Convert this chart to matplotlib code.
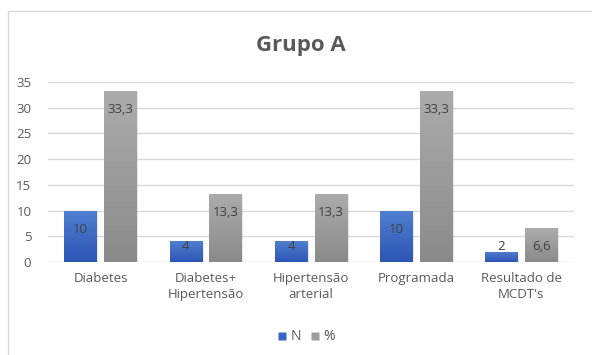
import matplotlib
matplotlib.use("Agg")
import matplotlib.pyplot as plt
import numpy as np
from matplotlib.patches import Rectangle
from matplotlib.colors import LinearSegmentedColormap
import matplotlib.patheffects as pe
from matplotlib.lines import Line2D

plt.rcParams['font.family'] = ['Open Sans', 'DejaVu Sans']

categories = ["Diabetes", "Diabetes+\nHipertensão", "Hipertensão\narterial",
              "Programada", "Resultado de\nMCDT's"]
n_values = [10, 4, 4, 10, 2]
pct_values = [33.3, 13.3, 13.3, 33.3, 6.6]
series_names = ["N", "%"]
yticks = [0, 5, 10, 15, 20, 25, 30, 35]


def fmt(v):
    s = f"{v:g}"
    return s.replace(".", ",")


fig = plt.figure(figsize=(5.92, 3.55), dpi=100)
fig.patch.set_facecolor("white")

# chart frame (left and top edges visible)
frame = Rectangle((8 / 592, -0.05), 1.2, (1 - 11 / 355) + 0.05, transform=fig.transFigure,
                  fill=False, edgecolor="#d9d9d9", linewidth=1.0, zorder=0)
fig.patches.append(frame)

ax = fig.add_axes([48 / 592, 1 - 262 / 355, (574 - 48) / 592, (262 - 82) / 355])
ax.set_xlim(-0.5, len(categories) - 0.5)
ax.set_ylim(0, 35)
for s in ax.spines.values():
    s.set_visible(False)
ax.set_yticks(yticks)
ax.yaxis.grid(True, color="#d9d9d9", linewidth=1.0)
ax.set_axisbelow(True)
ax.tick_params(axis="both", length=0, colors="#595959", labelsize=9.5)
ax.tick_params(axis="y", pad=12)
ax.tick_params(axis="x", pad=7)
x = np.arange(len(categories))
ax.set_xticks(x)
ax.set_xticklabels(categories, color="#595959", fontsize=9.5, linespacing=1.3)

blue_cmap = LinearSegmentedColormap.from_list("blue", ["#2c55b5", "#5180cf"])
gray_cmap = LinearSegmentedColormap.from_list("gray", ["#8a8a8a", "#acacac"])

offset = 0.19
width = 0.31
grad = np.linspace(0, 1, 256).reshape(-1, 1)

for vals, dx, cmap, base in [(n_values, -offset, blue_cmap, "#3a64c0"),
                             (pct_values, offset, gray_cmap, "#9c9c9c")]:
    bars = ax.bar(x + dx, vals, width, color=base, zorder=2,
                  path_effects=[pe.SimplePatchShadow(offset=(1.0, -1.0), alpha=0.15,
                                                     shadow_rgbFace="#666666"),
                                pe.Normal()])
    for b, v in zip(bars, vals):
        bx, bw = b.get_x(), b.get_width()
        im = ax.imshow(grad, extent=[bx, bx + bw, 0, v], origin="lower",
                       cmap=cmap, aspect="auto", zorder=3)
        im.set_clip_path(b)
        ax.text(bx + bw / 2, max(v - 3.6, 3.0), fmt(v), ha="center", va="center",
                fontsize=9.5, color="#404040", zorder=4)

ax.set_xlim(-0.5, len(categories) - 0.5)
ax.set_ylim(0, 35)

fig.text(301 / 592, 1 - 45 / 355, "Grupo A", ha="center", va="center",
         fontsize=16, fontweight="bold", color="#595959")

handles = [Line2D([], [], marker="s", linestyle="none", markersize=6,
                  markerfacecolor="#3a64c0", markeredgecolor="none"),
           Line2D([], [], marker="s", linestyle="none", markersize=6,
                  markerfacecolor="#9c9c9c", markeredgecolor="none")]
leg = fig.legend(handles, series_names, loc="center", bbox_to_anchor=(306 / 592, 1 - 337 / 355),
                 ncol=2, frameon=False, fontsize=10, handlelength=0.8, handletextpad=0.2,
                 columnspacing=0.6)
for t in leg.get_texts():
    t.set_color("#595959")

fig.savefig("out.png", dpi=100, facecolor="white")
